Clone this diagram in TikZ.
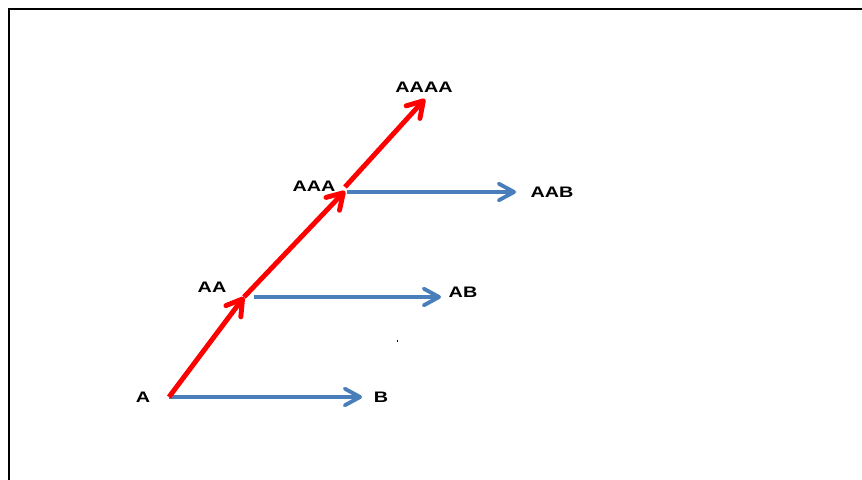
\documentclass[tikz,border=0pt]{standalone}
\usepackage{fontspec}
\newfontfamily\lblfont[FakeStretch=1.3]{Liberation Sans}
\definecolor{seqblue}{RGB}{74,126,187}
\definecolor{seqred}{RGB}{255,0,0}
\usetikzlibrary{
  arrows.meta,
  positioning
}

\begin{document}
\begin{tikzpicture}[
    x=0.3mm, y=0.3mm,
    lbl/.style={font=\lblfont\fontsize{13pt}{15pt}\selectfont\bfseries, inner sep=0pt},
    growline/.style={draw=seqred, line width=4.2pt,
      -{Straight Barb[length=4.6mm, width=5.6mm, line join=round, line cap=round]}},
    keepline/.style={draw=seqblue, line width=3.3pt,
      -{Straight Barb[length=4.6mm, width=5mm, line join=round, line cap=round]}}
  ]
  \useasboundingbox (0,0) rectangle (862,479);

  %% --- Frame ---
  \draw[line width=1.7pt] (9,-2) -- (9,470) -- (864,470);

  %% --- Points ---
  \coordinate (pA)     at (169,82);
  \coordinate (pAA)    at (244,182);
  \coordinate (pAAA)   at (345,288);
  \coordinate (tipB)   at (362,82);
  \coordinate (srcAB)  at (254,182);
  \coordinate (tipAB)  at (441,182);
  \coordinate (srcAAB) at (347,287);
  \coordinate (tipAAB) at (516,287);
  \coordinate (tipAAAA) at (425,380);

  %% --- Labels ---
  \node[lbl] (lA)    at (143,82)  {A};
  \node[lbl] (lB)    at (381,82)  {B};
  \node[lbl] (lAA)   at (212,192) {AA};
  \node[lbl] (lAB)   at (463,187) {AB};
  \node[lbl] (lAAA)  at (314,293) {AAA};
  \node[lbl] (lAAB)  at (552,287) {AAB};
  \node[lbl] (lAAAA) at (424,392) {AAAA};

  %% --- Connections ---
  \draw[keepline] (pA) -- (tipB);
  \draw[keepline] (srcAB) -- (tipAB);
  \draw[keepline] (srcAAB) -- (tipAAB);
  \draw[growline] (pA) -- (pAA);
  \draw[growline] (pAA) -- (pAAA);
  \draw[growline] ([shift={(0,4)}]pAAA) -- (tipAAAA);

  %% --- Stray dot ---
  \fill (396.5,137.5) rectangle (398,139);
\end{tikzpicture}
\end{document}
